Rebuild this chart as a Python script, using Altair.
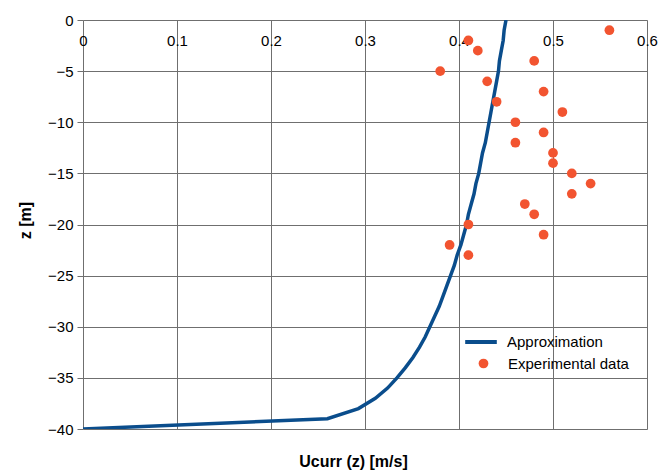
import altair as alt
import pandas as pd

# Approximation curve
line_z = [0, -1, -2, -3, -4, -5, -6, -7, -8, -9, -10, -11, -12, -13, -14, -15, -16, -17, -18, -19, -20,
          -21, -22, -23, -24, -25, -26, -27, -28, -29, -30, -31, -32, -33, -34, -35, -36, -37, -38, -39, -40]
line_u = [0.450, 0.448, 0.447, 0.445, 0.443, 0.442, 0.440, 0.438, 0.436, 0.434, 0.432, 0.430, 0.428,
          0.425, 0.423, 0.421, 0.418, 0.416, 0.413, 0.410, 0.408, 0.405, 0.402, 0.398, 0.395, 0.391,
          0.387, 0.383, 0.379, 0.374, 0.369, 0.364, 0.358, 0.351, 0.343, 0.334, 0.324, 0.311, 0.293,
          0.260, 0.0]

# Experimental data
exp_z = [-1, -2, -3, -4, -5, -6, -7, -8, -9, -10, -11, -12, -13, -14, -15, -16, -17, -18, -19, -20,
         -21, -22, -23]
exp_u = [0.56, 0.41, 0.42, 0.48, 0.38, 0.43, 0.49, 0.44, 0.51, 0.46, 0.49, 0.46, 0.50, 0.50, 0.52,
         0.54, 0.52, 0.47, 0.48, 0.41, 0.49, 0.39, 0.41]

x_ticks = [0, 0.1, 0.2, 0.3, 0.4, 0.5, 0.6]
y_ticks = [0, -5, -10, -15, -20, -25, -30, -35, -40]

FONT = "Liberation Sans"
GRID = "#6f6f6f"
BLUE = "#0a4d8c"
ORANGE = "#f25430"

line_df = pd.DataFrame({"u": line_u, "z": line_z, "s1": "Approximation"})
exp_df = pd.DataFrame({"u": exp_u, "z": exp_z, "s2": "Experimental data"})

xscale = alt.Scale(domain=[0, 0.6], nice=False, zero=False)
yscale = alt.Scale(domain=[-40, 0], nice=False, zero=False)

xaxis = alt.Axis(
    orient="top", values=x_ticks, format=".1~f", grid=True, gridColor=GRID, gridOpacity=1,
    ticks=False, tickSize=0, domain=False, labelPadding=-20, labelBaseline="middle",
    labelFont=FONT, labelFontSize=15, labelColor="#000000", labelFlush=False,
    title="Ucurr (z) [m/s]", titleFont=FONT, titleFontSize=16, titleFontWeight="bold",
    titleColor="#000000", titleX=270, titleY=441, titleBaseline="middle", titleAlign="center",
)
yaxis = alt.Axis(
    orient="left", values=y_ticks, grid=True, gridColor=GRID, gridOpacity=1,
    ticks=True, tickSize=6, tickColor=GRID, domain=False, labelPadding=4,
    labelFont=FONT, labelFontSize=15, labelColor="#000000",
    title="z [m]", titleFont=FONT, titleFontSize=16, titleFontWeight="bold",
    titleColor="#000000", titleX=-58, titleY=200, titleAngle=270, titleBaseline="middle",
    titleAlign="center",
)

line = alt.Chart(line_df).mark_line(strokeWidth=3.5, clip=True).encode(
    x=alt.X("u:Q", scale=xscale, axis=xaxis),
    y=alt.Y("z:Q", scale=yscale, axis=yaxis),
    order=alt.Order("z:Q"),
    color=alt.Color("s1:N", scale=alt.Scale(domain=["Approximation"], range=[BLUE]),
                    legend=alt.Legend(orient="none", legendX=380, legendY=304, title=None,
                                      symbolType="stroke", symbolSize=1000, symbolStrokeWidth=4,
                                      labelFont=FONT, labelFontSize=15, labelColor="#000000",
                                      labelOffset=8, padding=0)),
)

points = alt.Chart(exp_df).mark_point(filled=True, size=95, opacity=1, shape="circle").encode(
    x=alt.X("u:Q", scale=xscale),
    y=alt.Y("z:Q", scale=yscale),
    fill=alt.Fill("s2:N", scale=alt.Scale(domain=["Experimental data"], range=[ORANGE]),
                  legend=alt.Legend(orient="none", legendX=393, legendY=336, title=None,
                                    symbolType="circle", symbolSize=95, symbolOpacity=1,
                                    symbolStrokeWidth=0,
                                    labelFont=FONT, labelFontSize=15, labelColor="#000000",
                                    labelOffset=17, padding=0)),
)

chart = alt.layer(line, points).properties(
    width=564, height=409,
    padding={"left": 75, "top": 12, "right": 11, "bottom": 41},
    autosize=alt.AutoSizeParams(type="none"),
).configure_view(stroke=GRID, strokeWidth=1).configure(background="white")

chart.save("out.html", embed_options={"renderer": "svg", "actions": False})
